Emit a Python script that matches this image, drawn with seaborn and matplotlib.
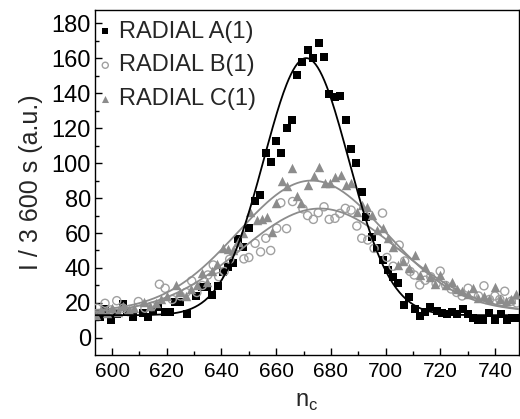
import numpy as np
import pandas as pd
import matplotlib
matplotlib.use("Agg")
import matplotlib.pyplot as plt
from matplotlib.ticker import MultipleLocator
import seaborn as sns

# ---- data ----
a_x = [594.0, 595.4, 597.4, 599.5, 601.7, 603.8, 605.6, 607.8, 611.2, 613.3, 615.1, 616.9, 619.4, 621.0,
       623.0, 624.9, 627.3, 630.7, 632.8, 634.6, 636.4, 638.8, 640.7, 642.5, 644.3, 646.2, 648.0, 650.1,
       652.3, 654.2, 656.2, 658.1, 659.9, 661.9, 663.8, 665.7, 667.7, 669.6, 671.8, 673.6, 675.5, 677.6,
       679.4, 681.5, 683.3, 685.4, 687.4, 689.2, 691.3, 692.8, 694.9, 696.7, 698.9, 700.8, 702.6, 704.6,
       706.7, 708.7, 710.7, 712.6, 714.4, 716.2, 718.7, 720.5, 722.3, 724.2, 726.0, 728.2, 730.2, 732.1,
       733.9, 735.7, 737.9, 740.0, 742.4, 744.3, 746.1, 748.2]
a_y = [14.0, 11.8, 16.4, 10.3, 13.7, 19.4, 15.0, 12.2, 14.1, 11.8, 15.6, 17.5, 15.0, 15.0,
       20.4, 20.8, 13.7, 24.2, 29.3, 29.0, 24.6, 29.7, 37.9, 40.4, 42.7, 56.4, 52.2, 62.8,
       78.3, 81.7, 105.5, 100.4, 112.4, 105.9, 119.8, 124.6, 150.5, 157.7, 164.6, 159.8, 168.7, 160.9,
       139.6, 137.7, 138.4, 124.6, 108.0, 99.8, 83.6, 69.3, 57.5, 51.2, 44.6, 38.9, 35.0, 31.2,
       18.9, 23.6, 16.4, 12.6, 15.0, 17.9, 15.6, 14.1, 13.5, 15.0, 13.7, 16.4, 13.7, 11.2,
       10.3, 10.3, 14.1, 10.3, 13.7, 10.3, 11.2, 11.2]

b_x = [594.5, 597.4, 599.5, 601.7, 604.0, 606.0, 609.6, 612.0, 614.5, 617.3, 619.4, 622.0, 625.0, 627.0,
       629.1, 631.0, 633.0, 635.0, 637.0, 639.0, 641.0, 643.0, 646.2, 648.2, 650.0, 652.3, 654.3, 656.2,
       658.0, 660.2, 661.7, 663.8, 666.0, 669.8, 671.5, 673.6, 675.4, 677.5, 679.4, 681.5, 683.3, 685.3,
       687.4, 689.5, 691.3, 693.5, 695.8, 698.9, 700.5, 702.8, 705.0, 707.0, 709.0, 710.5, 712.5, 714.5,
       716.5, 718.5, 720.0, 722.0, 724.0, 726.0, 728.0, 730.2, 732.0, 734.0, 736.0, 738.0, 740.0, 741.8,
       743.6, 746.0, 748.0]
b_y = [17.0, 19.8, 16.0, 21.3, 17.0, 15.0, 20.8, 17.0, 18.0, 30.7, 28.4, 22.0, 24.0, 26.0,
       32.6, 26.0, 30.0, 36.0, 41.7, 35.0, 38.0, 45.0, 52.2, 45.2, 46.0, 54.1, 49.2, 57.0,
       50.0, 62.7, 77.3, 62.5, 78.0, 73.8, 70.0, 67.8, 71.6, 75.0, 67.8, 68.4, 71.2, 74.1,
       73.1, 64.0, 57.0, 56.0, 51.2, 71.4, 46.0, 41.0, 53.1, 44.0, 38.0, 36.0, 30.3, 33.0,
       35.0, 31.0, 38.2, 30.0, 28.0, 26.0, 24.0, 28.4, 25.0, 24.0, 29.8, 22.0, 24.0, 22.0,
       26.7, 21.0, 20.0]

c_x = [594.0, 596.0, 598.0, 600.0, 602.0, 604.0, 606.0, 608.0, 611.5, 614.0, 616.0, 618.0, 620.0, 623.2,
       625.0, 627.0, 629.0, 631.0, 632.8, 634.6, 636.5, 638.5, 640.7, 642.5, 644.3, 646.0, 648.0, 650.4,
       652.9, 654.7, 656.5, 658.3, 659.9, 662.0, 663.8, 665.7, 667.5, 669.0, 671.8, 673.8, 675.7, 677.9,
       679.7, 681.7, 683.6, 685.5, 687.4, 689.4, 691.3, 693.1, 695.2, 696.7, 698.9, 700.8, 702.8, 704.6,
       706.5, 708.5, 710.7, 712.6, 714.4, 716.3, 718.0, 719.9, 722.0, 724.2, 726.0, 728.0, 730.0, 732.1,
       734.0, 736.0, 738.0, 740.0, 742.0, 744.0, 746.0, 747.7]
c_y = [13.0, 16.0, 14.0, 17.0, 15.0, 18.0, 16.0, 17.0, 20.8, 18.0, 20.0, 22.0, 24.0, 30.3,
       26.0, 24.0, 28.0, 30.0, 37.0, 32.2, 38.0, 42.0, 51.2, 50.7, 50.0, 55.0, 60.0, 72.2,
       67.4, 68.0, 69.3, 60.8, 76.9, 89.5, 86.7, 97.0, 80.9, 76.9, 87.6, 92.6, 97.5, 88.4,
       88.4, 92.0, 93.1, 87.6, 88.4, 72.2, 76.0, 75.0, 70.4, 61.7, 62.7, 57.0, 51.8, 41.7,
       44.0, 40.0, 47.4, 36.0, 40.8, 35.0, 31.0, 36.0, 30.0, 32.2, 28.0, 27.0, 25.0, 28.4,
       23.0, 24.0, 22.0, 29.3, 22.0, 21.0, 22.0, 25.1]

series_labels = ["RADIAL A(1)", "RADIAL B(1)", "RADIAL C(1)"]

# Gaussian fit parameters (baseline, amplitude, centre, sigma)
fit_a = [13.0, 147.0, 671.0, 15.5]
fit_b = [14.0, 60.0, 676.0, 29.0]
fit_c = [15.0, 75.0, 673.0, 27.0]

x_ticks = [600, 620, 640, 660, 680, 700, 720, 740]
y_ticks = [0, 20, 40, 60, 80, 100, 120, 140, 160, 180]

# ---- plotting ----
sns.set_style("ticks")
plt.rcParams["font.family"] = ["Liberation Sans", "DejaVu Sans"]

fig = plt.figure(figsize=(5.2, 4.19), dpi=100)
ax = fig.add_axes([0.183, 0.153, 0.815, 0.823])

df = pd.concat([
    pd.DataFrame({"x": a_x, "y": a_y, "s": series_labels[0]}),
    pd.DataFrame({"x": b_x, "y": b_y, "s": series_labels[1]}),
    pd.DataFrame({"x": c_x, "y": c_y, "s": series_labels[2]}),
])

gray = "#8c8c8c"
styles = {
    series_labels[0]: dict(marker="s", color="black", edgecolor="black", s=32, linewidth=0),
    series_labels[1]: dict(marker="o", color="none", edgecolor="#a0a0a0", s=34, linewidth=1.0),
    series_labels[2]: dict(marker="^", color=gray, edgecolor=gray, s=46, linewidth=0),
}
for lab in series_labels:
    sub = df[df["s"] == lab]
    st = styles[lab]
    sns.scatterplot(data=sub, x="x", y="y", ax=ax, marker=st["marker"], color=st["color"],
                    edgecolor=st["edgecolor"], s=st["s"], linewidth=st["linewidth"], label=lab,
                    zorder=3)

xf = np.linspace(593, 750, 400)
for params, col in [(fit_b, gray), (fit_c, gray), (fit_a, "black")]:
    y0, amp, c, sg = params
    yf = y0 + amp * np.exp(-(xf - c) ** 2 / (2 * sg ** 2))
    sns.lineplot(x=xf, y=yf, ax=ax, color=col, linewidth=1.3, legend=False, zorder=4)

ax.set_xlim(593.8, 748.8)
ax.set_ylim(-9.7, 187.5)
ax.set_xticks(x_ticks)
ax.set_yticks(y_ticks)
ax.xaxis.set_minor_locator(MultipleLocator(10))
ax.yaxis.set_minor_locator(MultipleLocator(10))
ax.tick_params(which="both", direction="in", top=False, right=False, colors="black")
ax.tick_params(axis="x", labelsize=15, pad=5)
ax.tick_params(axis="y", labelsize=17, pad=3)
ax.tick_params(which="major", length=5, width=1)
ax.tick_params(which="minor", length=3, width=1)
for sp in ax.spines.values():
    sp.set_linewidth(1.0)
    sp.set_color("black")

ax.set_xlabel(r"n$_\mathregular{c}$", fontsize=17, labelpad=7)
ax.set_ylabel("I / 3 600 s (a.u.)", fontsize=18, labelpad=6)

leg = ax.legend(loc="upper left", bbox_to_anchor=(-0.004, 0.983), frameon=False, fontsize=17,
                handletextpad=0.3, borderaxespad=0.0, labelspacing=0.5, markerscale=0.75,
                handlelength=0.6, borderpad=0.2)

fig.savefig("out.png", dpi=100)
